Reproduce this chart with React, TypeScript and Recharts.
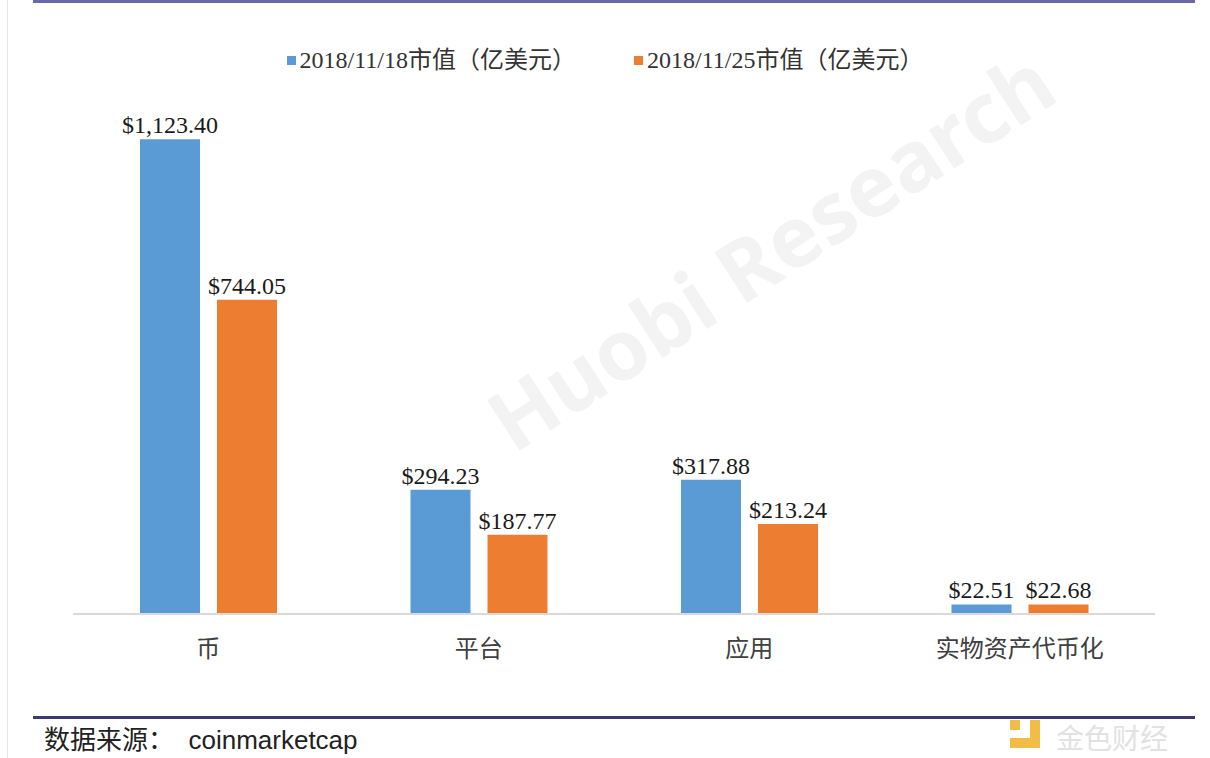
import React from "react";
import { Bar, BarChart, LabelList, XAxis, YAxis } from "recharts";

const categories = ["币", "平台", "应用", "实物资产代币化"];
const cap1118 = [1123.4, 294.23, 317.88, 22.51];
const cap1125 = [744.05, 187.77, 213.24, 22.68];
const seriesNames = ["2018/11/18市值（亿美元）", "2018/11/25市值（亿美元）"];
const colors = ["#5b9bd5", "#ed7d31"];

const data = categories.map((name, i) => ({ name, a: cap1118[i], b: cap1125[i] }));

const money = (v: any) =>
  "$" + Number(v).toLocaleString("en-US", { minimumFractionDigits: 2, maximumFractionDigits: 2 });

const serif = "'Liberation Serif', 'Noto Sans CJK SC', serif";
const cjk = "'Noto Sans CJK SC', 'Noto Sans', sans-serif";

export default function App() {
  return (
    <div style={{ position: "absolute", left: 0, top: 0, width: 1210, height: 758, background: "#fff", overflow: "hidden" }}>
      {/* faint watermark */}
      <div
        style={{
          position: "absolute",
          left: 770,
          top: 250,
          fontFamily: "'Noto Sans', sans-serif",
          fontWeight: 700,
          fontSize: 84,
          lineHeight: "90px",
          color: "#f3f3f3",
          transform: "translate(-50%, -50%) rotate(-33deg)",
          whiteSpace: "nowrap",
        }}
      >
        Huobi Research
      </div>
      <div style={{ position: "absolute", left: 7, top: 0, width: 1, height: 758, background: "#e6e6e6" }} />
      <div style={{ position: "absolute", left: 33, top: 0, width: 1162, height: 3, background: "#6b68a8" }} />

      <div style={{ position: "absolute", left: 0, top: 0 }}>
        <BarChart width={1210} height={758} data={data} margin={{ top: 107, right: 55, bottom: 104, left: 73 }} barSize={60} barGap={17}>
          <YAxis hide domain={[0, 1200]} />
          <XAxis
            dataKey="name"
            height={40}
            axisLine={{ stroke: "#d9d9d9", strokeWidth: 2 }}
            tickLine={false}
            tickSize={0}
            tickMargin={26}
            tick={{ fontSize: 24, fill: "#404040", fontFamily: cjk }}
          />
          <Bar dataKey="a" name={seriesNames[0]} fill={colors[0]} isAnimationActive={false}>
            <LabelList dataKey="a" position="top" offset={6} formatter={money} style={{ fontFamily: serif, fontSize: 24, fill: "#1a1a1a" }} />
          </Bar>
          <Bar dataKey="b" name={seriesNames[1]} fill={colors[1]} isAnimationActive={false}>
            <LabelList dataKey="b" position="top" offset={6} formatter={money} style={{ fontFamily: serif, fontSize: 24, fill: "#1a1a1a" }} />
          </Bar>
        </BarChart>
      </div>

      <div style={{ position: "absolute", left: 0, top: 40, width: 1210, display: "flex", justifyContent: "center", gap: 58, fontFamily: serif, fontSize: 24, color: "#333" }}>
        {seriesNames.map((n, i) => (
          <div key={n} style={{ display: "flex", alignItems: "center" }}>
            <span style={{ display: "inline-block", width: 9, height: 9, background: colors[i], marginRight: 4, marginTop: 6 }} />
            <span>{n}</span>
          </div>
        ))}
      </div>

      <div style={{ position: "absolute", left: 33, top: 716, width: 1162, height: 3, background: "#3a3a6e" }} />
      <div style={{ position: "absolute", left: 44, top: 724, fontFamily: cjk, fontSize: 26, lineHeight: "28px", color: "#222", whiteSpace: "pre" }}>
        数据来源：<span style={{ fontFamily: "'Liberation Sans', sans-serif" }}>  coinmarketcap</span>
      </div>
      <div style={{ position: "absolute", left: 1010, top: 720, width: 10, height: 10, background: "#f2bd46" }} />
      <div style={{ position: "absolute", left: 1010, top: 738, width: 30, height: 10, background: "#f2bd46" }} />
      <div style={{ position: "absolute", left: 1030, top: 720, width: 10, height: 28, background: "#f2bd46" }} />
      <div style={{ position: "absolute", left: 1056, top: 722, fontFamily: cjk, fontSize: 28, lineHeight: "30px", color: "#e2e2e2" }}>金色财经</div>
    </div>
  );
}
